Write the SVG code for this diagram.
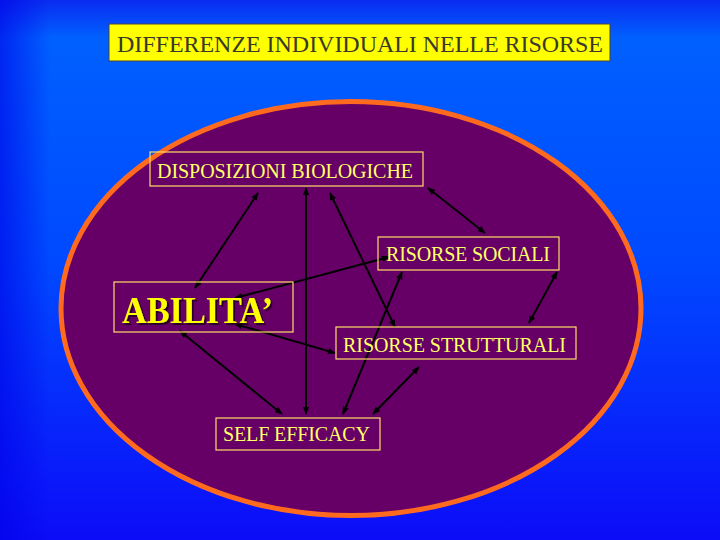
<svg xmlns="http://www.w3.org/2000/svg" width="720" height="540" viewBox="0 0 720 540">
<defs>
<linearGradient id="bg" x1="0" y1="0" x2="0" y2="1">
<stop offset="0" stop-color="#0a2cf0"/>
<stop offset="0.07" stop-color="#0060ff"/>
<stop offset="0.5" stop-color="#0048ff"/>
<stop offset="1" stop-color="#0c0cf8"/>
</linearGradient>
<linearGradient id="lEdge" x1="0" y1="0" x2="1" y2="0">
<stop offset="0" stop-color="#0000e8" stop-opacity="0.6"/>
<stop offset="1" stop-color="#0000e8" stop-opacity="0"/>
</linearGradient>
<filter id="shd" x="-10%" y="-20%" width="130%" height="150%">
<feDropShadow dx="2" dy="2" stdDeviation="0.5" flood-color="#200020" flood-opacity="0.9"/>
</filter>
<marker id="ah" viewBox="0 0 10 10" refX="9" refY="5" markerWidth="8" markerHeight="8" markerUnits="userSpaceOnUse" orient="auto-start-reverse">
<path d="M0,1 L10,5 L0,9 Z" fill="#000"/>
</marker>
<style>
.box{fill:none;stroke:#ffdd66;stroke-width:1.2}
.lbl{font-family:"Liberation Serif","Times New Roman",serif;fill:#ffff66;font-size:20px}
.con line{stroke:#000;stroke-width:2;marker-start:url(#ah);marker-end:url(#ah)}
</style>
</defs>
<rect width="720" height="540" fill="url(#bg)"/>
<rect width="50" height="540" fill="url(#lEdge)"/>
<ellipse cx="351" cy="308.5" rx="290" ry="207" fill="#660066" stroke="#ff6a1e" stroke-width="5"/>
<g id="title">
<rect x="109" y="24" width="501" height="37" fill="#ffff00" stroke="#444" stroke-width="1"/>
<text x="117" y="52" font-family="Liberation Serif, Times New Roman, serif" font-size="24" fill="#3a3a2a" textLength="486">DIFFERENZE INDIVIDUALI NELLE RISORSE</text>
</g>
<g class="con">
<line x1="258" y1="193" x2="195" y2="288"/>
<line x1="306" y1="188" x2="306" y2="414"/>
<line x1="330" y1="193" x2="395" y2="327"/>
<line x1="428" y1="188" x2="485" y2="233"/>
<line x1="235" y1="298" x2="389" y2="257"/>
<line x1="402" y1="272" x2="343" y2="414"/>
<line x1="557" y1="272" x2="529" y2="323"/>
<line x1="235" y1="324" x2="335" y2="353"/>
<line x1="180" y1="331" x2="282" y2="414"/>
<line x1="419" y1="367" x2="373" y2="414"/>
</g>
<g id="disposizioni">
<rect class="box" x="150" y="152" width="273" height="34"/>
<text class="lbl" x="157" y="178" textLength="256">DISPOSIZIONI BIOLOGICHE</text>
</g>
<g id="sociali">
<rect class="box" x="378" y="237" width="181" height="33"/>
<text class="lbl" x="386" y="261" textLength="164">RISORSE SOCIALI</text>
</g>
<g id="abilita">
<rect class="box" x="114" y="282" width="179" height="50"/>
<text x="122" y="323" font-family="Liberation Serif, Times New Roman, serif" font-size="38" font-weight="bold" fill="#ffff00" textLength="151" lengthAdjust="spacingAndGlyphs" filter="url(#shd)">ABILITA’</text>
</g>
<g id="strutturali">
<rect class="box" x="336" y="327" width="240" height="32"/>
<text class="lbl" x="343" y="352" textLength="223">RISORSE STRUTTURALI</text>
</g>
<g id="selfefficacy">
<rect class="box" x="216" y="418" width="164" height="32"/>
<text class="lbl" x="223" y="441" textLength="147">SELF EFFICACY</text>
</g>
</svg>
